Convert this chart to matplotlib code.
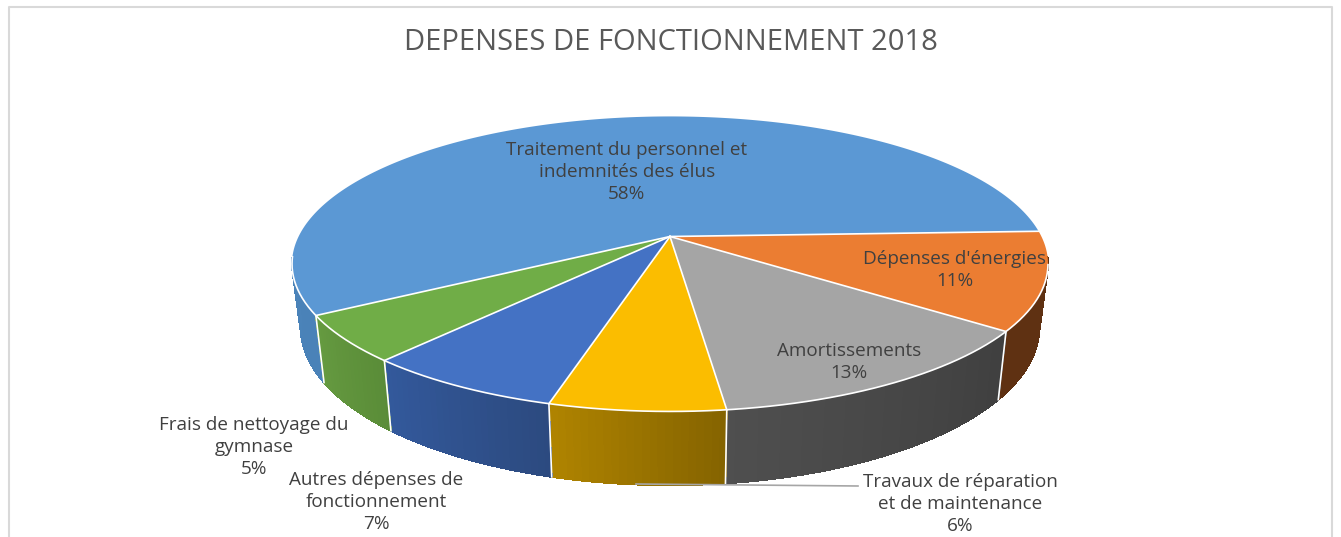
import numpy as np
import matplotlib
matplotlib.use("Agg")
import matplotlib.pyplot as plt
from matplotlib.colors import to_rgb

# percentages, the labels are these rounded
categories = ["Traitement du personnel et\nindemnités des élus", "Dépenses d'énergies",
              "Amortissements", "Travaux de réparation\net de maintenance",
              "Autres dépenses de\nfonctionnement", "Frais de nettoyage du\ngymnase"]
values = [57.8, 10.7, 12.9, 6.3, 7.2, 5.1]
top_colors = ["#5b98d4", "#eb7d32", "#a5a5a5", "#fbbd00", "#4472c4", "#70ad47"]
wall_start = ["#4a82b8", "#5f3112", "#3f3f3f", "#846300", "#2c4a7f", "#5a8c38"]
wall_end = ["#4f88c0", "#5f3112", "#4f4f4f", "#b08400", "#33599c", "#659a40"]
title = "DEPENSES DE FONCTIONNEMENT 2018"

label_xy = [(627, 172), (955, 270), (849, 362), (960, 504), (376, 502), (254, 447)]

# projection of the pie disc, in pixels of the figure
cx, cy = 670, 236.5
a, b, k = 142.4, 371.4, 0.186
start = 239.8


def project(theta):
    t = np.radians(theta)
    X, Y = np.sin(t), np.cos(t)
    return cx + b * X / (1 + k * Y), cy - a * Y / (1 + k * Y)


def project_low(theta):
    x, y = project(theta)
    return cx + (x - cx) * 0.977, y + 67 + (y - 315) * 0.07


fig = plt.figure(figsize=(13.41, 5.37), dpi=100)
ax = fig.add_axes([0, 0, 1, 1])
ax.set_xlim(0, 1341)
ax.set_ylim(537, 0)
ax.axis("off")

# frame, no bottom side visible
ax.plot([9.5, 9.5, 1332.5, 1332.5], [537, 7, 7, 537], color="#d9d9d9", lw=1.5, zorder=1)

edges = start + np.concatenate([[0], np.cumsum(values)]) * 3.6

# side walls, small steps for the gradient
for i in range(len(values)):
    t0, t1 = edges[i], edges[i + 1]
    c0, c1 = np.array(to_rgb(wall_start[i])), np.array(to_rgb(wall_end[i]))
    for shift in [0, 360]:
        lo, hi = max(t0, 98 + shift), min(t1, 262 + shift)
        if lo >= hi:
            continue
        steps = np.linspace(lo, hi, int(hi - lo) + 2)
        for s0, s1 in zip(steps[:-1], steps[1:]):
            f = ((s0 + s1) / 2 - t0) / (t1 - t0)
            col = c0 + (c1 - c0) * f
            xa, ya = project(np.array([s0, s1]))
            xb, yb = project_low(np.array([s1, s0]))
            ax.fill(np.r_[xa, xb], np.r_[ya, yb], color=col, lw=0.6, antialiased=False, zorder=2)
        if lo == t0:
            ax.plot([project(lo)[0], project_low(lo)[0]], [project(lo)[1], project_low(lo)[1]],
                    color="white", lw=1.2, zorder=3)

# top of the pie
for i in range(len(values)):
    th = np.linspace(edges[i], edges[i + 1], 200)
    x, y = project(th)
    ax.fill(np.r_[cx, x], np.r_[cy, y], facecolor=top_colors[i], edgecolor="none", zorder=4)

# white lines: radii, then the front rim only
for e in edges[:-1]:
    x, y = project(e)
    ax.plot([cx, x], [cy, y], color="white", lw=1.2, zorder=5)
th = np.linspace(101, 262, 300)
x, y = project(th)
ax.plot(x, y, color="white", lw=1.2, zorder=5)

# leader line of the small slice
ax.plot([636, 858], [484, 486], color="#a6a6a6", lw=1.2, zorder=3)

font = "Open Sans"
for name, v, (lx, ly) in zip(categories, values, label_xy):
    ax.text(lx, ly, f"{name}\n{v:.0f}%", ha="center", va="center", fontsize=13.6, color="#404040",
            family=font, linespacing=1.3, zorder=6)
ax.text(671, 42, title, ha="center", va="center", fontsize=21, color="#595959", family=font, zorder=6)

fig.savefig("out.png", dpi=100)
